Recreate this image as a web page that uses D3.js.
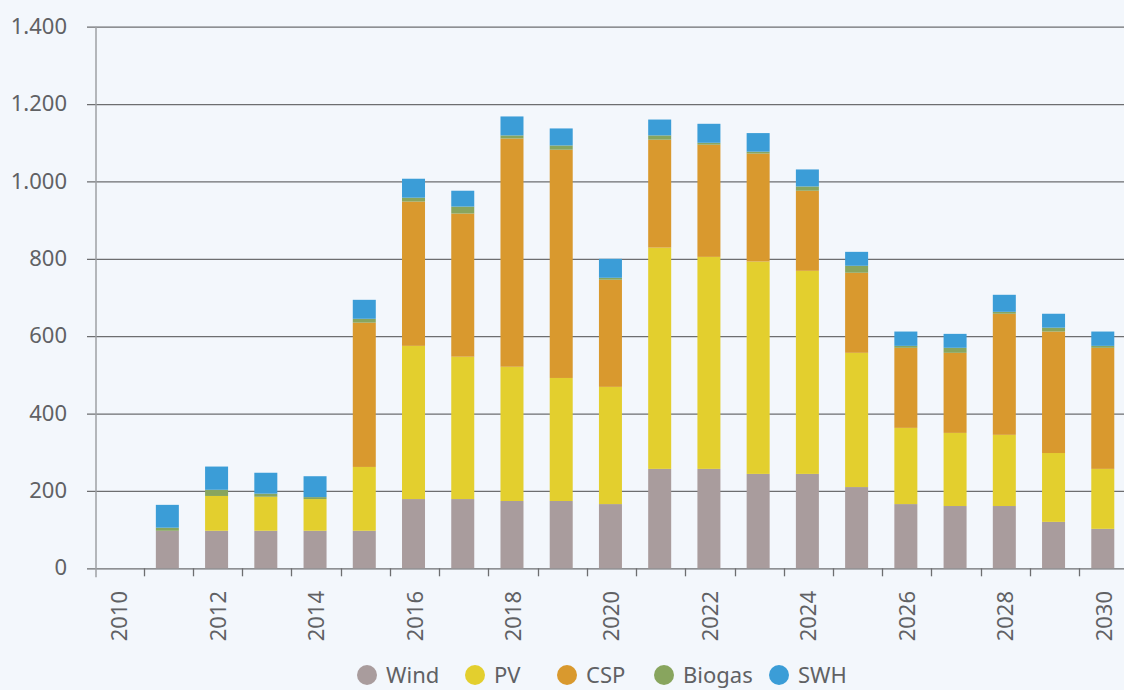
<!DOCTYPE html>
<html>
<head>
  <script type="text/javascript" src="https://cdn.jsdelivr.net/npm/d3@7"></script>
  <title>Stacked capacity</title>
  <style>
    body { margin: 0; background: #f3f7fc; }
    svg { display: block; }
    text { font-family: "Noto Sans", sans-serif; fill: #606164; }
  </style>
</head>
<body>

<svg width="1124" height="690"></svg>

<script>
  var years = d3.range(2010, 2031).map(String);
  var seriesNames = ["Wind", "PV", "CSP", "Biogas", "SWH"];
  var seriesColors = ["#a99c9d", "#e3cf2e", "#d9992e", "#88a55e", "#3b9dd7"];

  var wind   = [0,  97,  97,  97,  97,  97, 179, 179, 174, 174, 166, 257, 257, 244, 244, 210, 166, 161, 161, 120, 102];
  var pv     = [0,   0,  90,  88,  82, 165, 396, 368, 347, 318, 303, 572, 548, 549, 525, 347, 197, 189, 184, 178, 155];
  var csp    = [0,   0,   0,   0,   0, 373, 373, 370, 590, 590, 277, 279, 290, 279, 207, 207, 207, 207, 313, 314, 313];
  var biogas = [0,   8,  16,   8,   5,  10,  10,  18,   8,  11,   5,  11,   5,   5,  11,  18,   5,  13,   5,  10,   5];
  var swh    = [0,  59,  60,  54,  54,  49,  49,  41,  49,  44,  49,  41,  49,  48,  44,  36,  37,  36,  44,  36,  37];

  var yTicks = [0, 200, 400, 600, 800, 1000, 1200, 1400];

  var rows = years.map(function(y, i) {
    return { year: y, Wind: wind[i], PV: pv[i], CSP: csp[i], Biogas: biogas[i], SWH: swh[i] };
  });

  var svg = d3.select("svg");

  var x = d3.scaleBand().domain(years).range([94.5, 1128.4]);
  var y = d3.scaleLinear().domain([0, 1400]).range([568.3, 26.7]);
  var color = d3.scaleOrdinal().domain(seriesNames).range(seriesColors);

  var fmt = function(d) { return d3.format(",")(d).replace(/,/g, "."); };

  // horizontal grid + y labels
  svg.append("g")
      .attr("transform", "translate(96,0)")
      .call(d3.axisLeft(y).tickValues(yTicks).tickFormat(fmt).tickSize(-1040).tickPadding(29))
      .call(function(g) { g.select(".domain").remove(); })
      .call(function(g) {
        g.selectAll(".tick line").attr("x1", -9).attr("stroke", "#6d6e70").attr("stroke-width", 1.3);
        g.selectAll(".tick text").attr("font-size", 22).attr("fill", "#606164").attr("dy", "0.3em");
      });

  // left axis line
  svg.append("line")
      .attr("x1", 96).attr("x2", 96)
      .attr("y1", y(1400)).attr("y2", y(0) + 9)
      .attr("stroke", "#9ea1a5").attr("stroke-width", 1.5);

  // stacked bars
  var stack = d3.stack().keys(seriesNames)(rows);
  var barW = 23;

  svg.append("g").selectAll("g")
      .data(stack)
      .join("g")
      .attr("fill", function(d) { return color(d.key); })
      .selectAll("rect")
      .data(function(d) { return d; })
      .join("rect")
      .attr("x", function(d) { return x(d.data.year) + x.bandwidth() / 2 - barW / 2 - 1; })
      .attr("width", barW)
      .attr("y", function(d) { return y(d[1]); })
      .attr("height", function(d) { return y(d[0]) - y(d[1]); });

  // x axis ticks at band edges
  var xg = svg.append("g");
  xg.selectAll("line")
      .data(years.slice(1))
      .join("line")
      .attr("x1", function(d) { return Math.round(x(d)) + 0.5; })
      .attr("x2", function(d) { return Math.round(x(d)) + 0.5; })
      .attr("y1", y(0)).attr("y2", y(0) + 8)
      .attr("stroke", "#6d6e70").attr("stroke-width", 1.3);

  xg.selectAll("text")
      .data(years.filter(function(d, i) { return i % 2 === 0; }))
      .join("text")
      .attr("transform", function(d) {
        return "translate(" + (x(d) + x.bandwidth() / 2 + 8) + "," + 591 + ") rotate(-90)";
      })
      .attr("text-anchor", "end")
      .attr("font-size", 22)
      .text(function(d) { return d; });

  // legend
  var legendX = [367, 475, 567, 664, 779];
  var legend = svg.append("g").selectAll("g")
      .data(seriesNames)
      .join("g")
      .attr("transform", function(d, i) { return "translate(" + legendX[i] + ",675)"; });

  legend.append("circle")
      .attr("r", 10)
      .attr("fill", function(d) { return color(d); });

  legend.append("text")
      .attr("x", 19)
      .attr("dy", "0.35em")
      .attr("font-size", 22)
      .text(function(d) { return d; });
</script>

</body>
</html>
